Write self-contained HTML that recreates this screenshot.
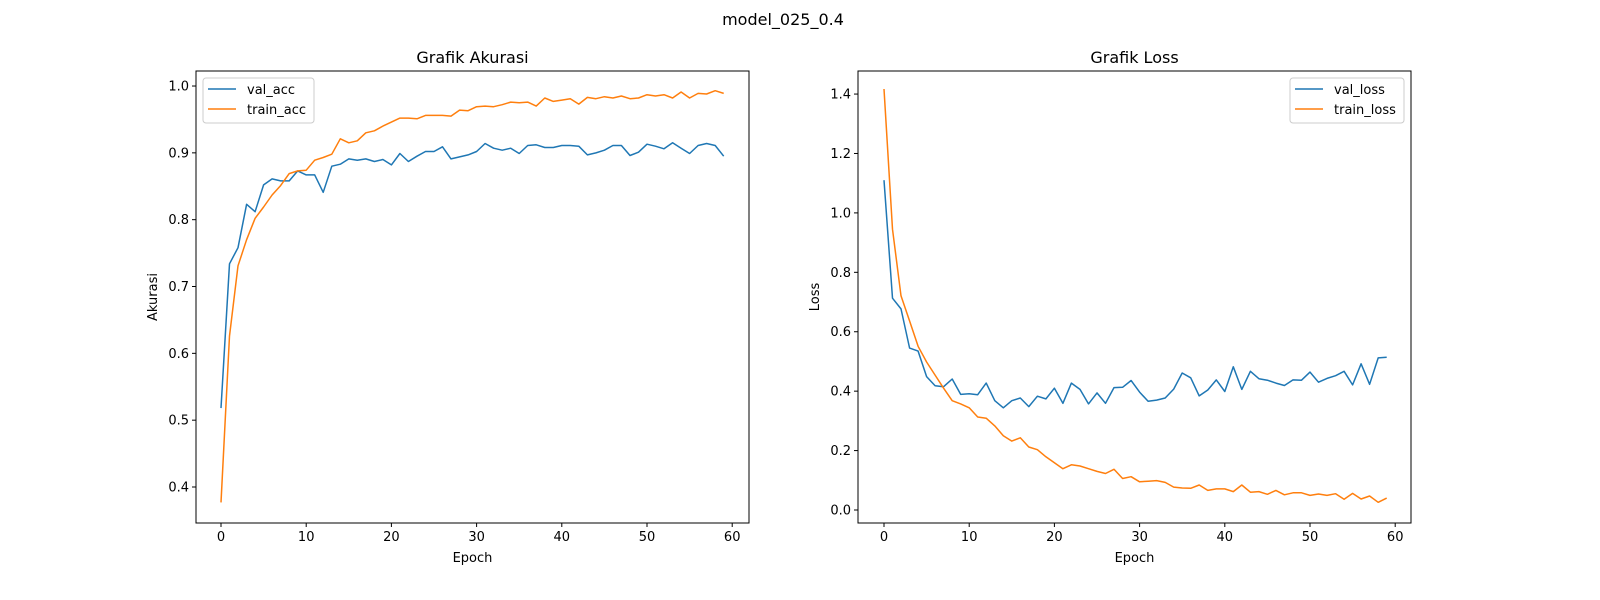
<!DOCTYPE html>
<html><head><meta charset="utf-8"><style>
body{margin:0;background:#fff;}
svg{display:block;font-family:"DejaVu Sans","Liberation Sans",sans-serif;}
</style></head><body>
<svg id="chart" width="1600" height="600" xmlns="http://www.w3.org/2000/svg">
<rect width="1600" height="600" fill="#fff"/>
<text x="783" y="25" font-size="16" text-anchor="middle">model_025_0.4</text>
</svg>
<script>
const epochs = Array.from({length:60},(_,i)=>i);
const valAcc = [0.518,0.734,0.758,0.823,0.812,0.852,0.861,0.858,0.858,0.873,0.867,0.867,0.841,0.880,0.883,0.891,0.889,0.891,0.887,0.890,0.882,0.899,0.887,0.895,0.902,0.902,0.909,0.891,0.894,0.897,0.902,0.914,0.907,0.904,0.907,0.899,0.911,0.912,0.908,0.908,0.911,0.911,0.910,0.897,0.900,0.904,0.911,0.911,0.896,0.901,0.913,0.910,0.906,0.915,0.907,0.899,0.911,0.914,0.911,0.895];
const trainAcc = [0.377,0.626,0.731,0.770,0.802,0.819,0.837,0.851,0.869,0.873,0.874,0.889,0.893,0.898,0.921,0.915,0.918,0.930,0.933,0.940,0.946,0.952,0.952,0.951,0.956,0.956,0.956,0.955,0.964,0.963,0.969,0.970,0.969,0.972,0.976,0.975,0.976,0.970,0.982,0.977,0.979,0.981,0.973,0.983,0.981,0.984,0.982,0.985,0.981,0.982,0.987,0.985,0.987,0.982,0.991,0.982,0.989,0.988,0.993,0.989];
const valLoss = [1.110,0.713,0.677,0.545,0.535,0.449,0.418,0.415,0.441,0.389,0.391,0.388,0.427,0.368,0.344,0.368,0.377,0.348,0.383,0.374,0.410,0.359,0.427,0.406,0.357,0.394,0.359,0.412,0.413,0.436,0.397,0.366,0.370,0.377,0.407,0.461,0.445,0.384,0.404,0.438,0.399,0.482,0.406,0.467,0.442,0.437,0.427,0.419,0.438,0.437,0.464,0.430,0.443,0.452,0.467,0.421,0.492,0.423,0.512,0.514];
const trainLoss = [1.417,0.945,0.721,0.636,0.551,0.498,0.454,0.410,0.368,0.357,0.344,0.313,0.309,0.283,0.250,0.232,0.243,0.212,0.203,0.179,0.159,0.139,0.152,0.148,0.139,0.130,0.123,0.137,0.106,0.112,0.095,0.097,0.099,0.093,0.077,0.074,0.073,0.084,0.066,0.071,0.071,0.062,0.084,0.060,0.062,0.053,0.066,0.051,0.058,0.058,0.049,0.054,0.049,0.055,0.036,0.056,0.037,0.047,0.026,0.040];
const xTicks = [0,10,20,30,40,50,60];
const accTicks = [0.4,0.5,0.6,0.7,0.8,0.9,1.0];
const lossTicks = [0.0,0.2,0.4,0.6,0.8,1.0,1.2,1.4];

const NS="http://www.w3.org/2000/svg";
const svg=document.getElementById('chart');
function mk(tag,attrs,parent){const e=document.createElementNS(NS,tag);for(const k in attrs)e.setAttribute(k,attrs[k]);(parent||svg).appendChild(e);return e;}

function panel(cfg){
  const g=mk('g',{});
  
  
  const {L,R,T,B}=cfg;
  const xs=v=>cfg.x0+v*8.52;
  const ys=v=>cfg.y0-(v-cfg.v0)*cfg.k;
  // ticks x
  xTicks.forEach(t=>{
    const x=xs(t);
    mk('line',{x1:x,x2:x,y1:B,y2:B+4,stroke:'#000','stroke-width':1},g);
    const tx=mk('text',{x:x,y:B+18,'font-size':13,'text-anchor':'middle'},g);
    tx.textContent=t;
    
    
  });
  cfg.ticks.forEach(t=>{
    const y=ys(t);
    mk('line',{x1:L-4,x2:L,y1:y,y2:y,stroke:'#000','stroke-width':1},g);
    const tx=mk('text',{x:L-7,y:y+4.5,'font-size':13,'text-anchor':'end'},g);
    tx.textContent=t.toFixed(1);
    
    
  });
  // series
  cfg.series.forEach(s=>{
    const d=s.data.map((v,i)=>(i?'L':'M')+xs(epochs[i]).toFixed(1)+','+ys(v).toFixed(1)).join('');
    const p=mk('path',{d:d,fill:'none',stroke:s.color,'stroke-width':1.5,'stroke-linejoin':'round'},g);
    
    
  });
  mk('rect',{x:L,y:T,width:R-L,height:B-T,fill:'none',stroke:'#000','stroke-width':1},g);
  const ti=mk('text',{x:(L+R)/2,y:T-8,'font-size':16,'text-anchor':'middle'},g);
  ti.textContent=cfg.title;
  
  
  const xl=mk('text',{x:(L+R)/2,y:B+39,'font-size':13,'text-anchor':'middle'},g);
  xl.textContent='Epoch';
  
  
  const yl=mk('text',{x:0,y:0,'font-size':13,'text-anchor':'middle',transform:`translate(${cfg.ylx},${(T+B)/2}) rotate(-90)`},g);
  yl.textContent=cfg.ylabel;
  
  
  // legend
  const lg=mk('g',{},g);
  
  
  mk('rect',{x:cfg.lx,y:78,width:cfg.lw,height:45,rx:3,fill:'#fff',stroke:'#ccc','stroke-width':1},lg);
  cfg.series.forEach((s,i)=>{
    const y=89+i*20;
    mk('line',{x1:cfg.lx+5,x2:cfg.lx+33,y1:y,y2:y,stroke:s.color,'stroke-width':1.5},lg);
    const t=mk('text',{x:cfg.lx+44,y:y+5,'font-size':13},lg);
    t.textContent=s.label;
    
    
  });
}
panel({name:'accuracy-chart',L:196,R:749,T:71,B:523,x0:221,y0:487,v0:0.4,k:668.3,ticks:accTicks,title:'Grafik Akurasi',ylabel:'Akurasi',ylx:157,lx:203,lw:111,
  series:[{label:'val_acc',data:valAcc,color:'#1f77b4'},{label:'train_acc',data:trainAcc,color:'#ff7f0e'}]});
panel({name:'loss-chart',L:858,R:1411,T:71,B:523,x0:884,y0:510,v0:0,k:297.1,ticks:lossTicks,title:'Grafik Loss',ylabel:'Loss',ylx:819,lx:1290,lw:114,
  series:[{label:'val_loss',data:valLoss,color:'#1f77b4'},{label:'train_loss',data:trainLoss,color:'#ff7f0e'}]});
</script>
</body></html>
